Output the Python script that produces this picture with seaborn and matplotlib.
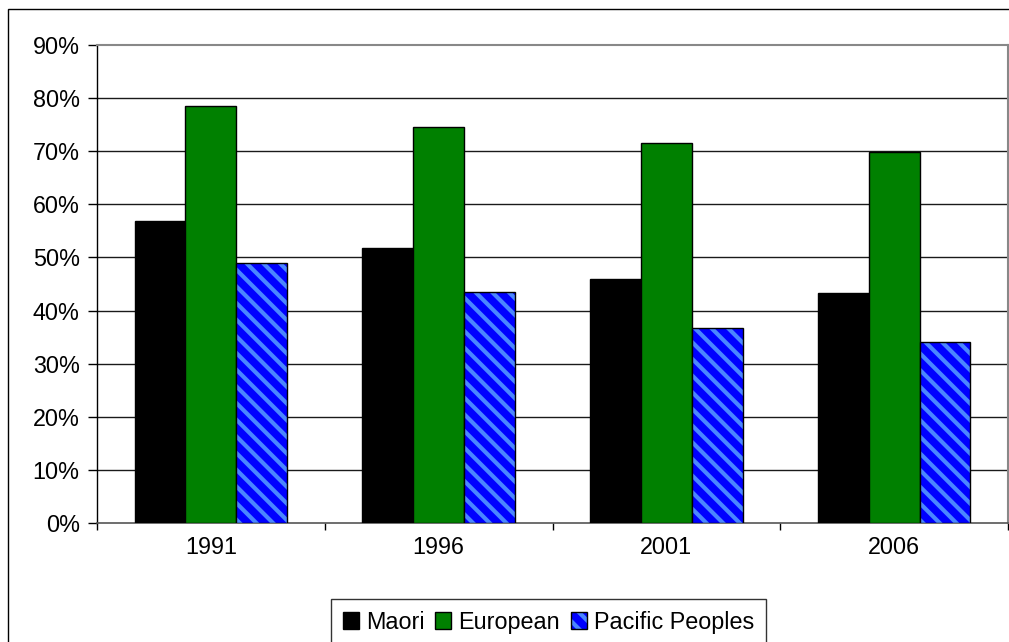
import matplotlib
matplotlib.use("Agg")
import matplotlib.pyplot as plt
import matplotlib.patches as mpatches
from matplotlib.legend_handler import HandlerTuple
from matplotlib.ticker import FuncFormatter, FixedLocator
import seaborn as sns
import pandas as pd

years = ["1991", "1996", "2001", "2006"]
groups = ["Maori", "European", "Pacific Peoples"]
maori = [56.8, 51.8, 45.9, 43.3]
european = [78.5, 74.6, 71.6, 69.8]
pacific = [48.9, 43.5, 36.7, 34.0]
yticks = [0, 10, 20, 30, 40, 50, 60, 70, 80, 90]

colors = ["#000000", "#008000", "#0000FF"]
stripe_color = "#4A86FF"
HATCH = "\\\\"

sns.set_theme(style="white")
plt.rcParams["font.family"] = ["Liberation Sans", "DejaVu Sans"]
plt.rcParams["hatch.linewidth"] = 3.0
plt.rcParams["text.color"] = "black"
plt.rcParams["xtick.color"] = "black"
plt.rcParams["ytick.color"] = "black"

rows = []
for g, vals in zip(groups, [maori, european, pacific]):
    for y, v in zip(years, vals):
        rows.append({"year": y, "group": g, "value": v})
df = pd.DataFrame(rows)

W, H = 1009, 642
FS = 16.8
fig = plt.figure(figsize=(W / 100, H / 100), dpi=100)
fig.patch.set_facecolor("white")
ax = fig.add_axes([97 / W, 1 - 523 / H, (1008 - 97) / W, (523 - 45) / H])

sns.barplot(data=df, x="year", y="value", hue="group", hue_order=groups,
            order=years, palette=colors, width=0.67, edgecolor="black",
            linewidth=1.0, saturation=1, gap=0, legend=False, ax=ax, zorder=3)

# hatch Pacific bars: hatch drawn in stripe colour, black outline on top
for p in ax.containers[2].patches:
    p.set_hatch(HATCH)
    p.set_edgecolor(stripe_color)
    p.set_linewidth(0)
    ax.add_patch(mpatches.Rectangle(p.get_xy(), p.get_width(), p.get_height(),
                                    fill=False, edgecolor="black", lw=1.0,
                                    zorder=4))

ax.set_ylim(0, 90)
ax.set_xlim(-0.5, 3.5)
ax.yaxis.set_major_locator(FixedLocator(yticks))
ax.yaxis.set_major_formatter(FuncFormatter(lambda v, _: f"{v:.0f}%"))
ax.set_xlabel("")
ax.set_ylabel("")

for yv in yticks[1:-1]:
    ax.axhline(yv, color="#1a1a1a", lw=1.0, zorder=1)

ax.tick_params(axis="y", which="major", direction="out", length=6.5, width=1,
               color="black", labelcolor="black", labelsize=FS, pad=6, left=True)
ax.tick_params(axis="x", which="major", length=0, labelsize=FS, pad=9,
               labelcolor="black")
ax.set_xticks([-0.5, 0.5, 1.5, 2.5, 3.5], minor=True)
ax.tick_params(axis="x", which="minor", direction="out", length=5, width=1,
               color="black", bottom=True)

ax.spines["left"].set_color("black")
ax.spines["left"].set_linewidth(1)
ax.spines["bottom"].set_color("#555555")
ax.spines["bottom"].set_linewidth(1.2)
for s in ["top", "right"]:
    ax.spines[s].set_visible(True)
    ax.spines[s].set_color("#888888")
    ax.spines[s].set_linewidth(1.5)

# legend
h_maori = mpatches.Patch(facecolor=colors[0], edgecolor="black", lw=1)
h_euro = mpatches.Patch(facecolor=colors[1], edgecolor="black", lw=1)
h_pac_fill = mpatches.Patch(facecolor=colors[2], edgecolor=stripe_color,
                            hatch=HATCH, lw=0)
h_pac_edge = mpatches.Patch(fill=False, edgecolor="black", lw=1)
leg = fig.legend(handles=[h_maori, h_euro, (h_pac_fill, h_pac_edge)],
                 labels=groups, loc="upper left",
                 handler_map={tuple: HandlerTuple(ndivide=1)},
                 bbox_to_anchor=(331 / W, 1 - 599 / H), ncol=3, fontsize=FS,
                 frameon=True, fancybox=False, edgecolor="black",
                 handlelength=0.7, handleheight=0.7, handletextpad=0.3,
                 columnspacing=0.45, borderpad=0.5, borderaxespad=0)
leg.get_frame().set_linewidth(1)
for t in leg.get_texts():
    t.set_color("black")

# outer chart border
fig.add_artist(mpatches.Rectangle((8 / W, -0.2), 1.5, 1.2 - 9 / H,
                                  transform=fig.transFigure, fill=False,
                                  edgecolor="black", lw=1, clip_on=False))

fig.savefig("out.png", dpi=100)
